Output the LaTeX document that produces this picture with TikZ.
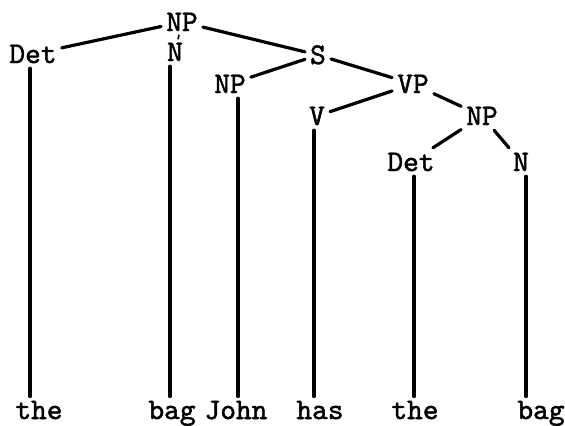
\documentclass[tikz,border=0pt]{standalone}
\usepackage{fontspec}
\usetikzlibrary{calc}
% typewriter face, emboldened a little to look like ribbon ink
\newfontfamily\typew{lmmono10-regular}[Extension=.otf, FakeBold=1.6]
\begin{document}
\begin{tikzpicture}[x=1bp,y=-1bp,
  lab/.style={font=\typew\fontsize{30}{32}\selectfont, inner sep=5bp,
              text height=18bp, text depth=0bp},
  word/.style={font=\typew\fontsize{30}{32}\selectfont, inner sep=4bp, anchor=base},
  branch/.style={line width=3.2bp, line cap=round}]
\useasboundingbox (0,0) rectangle (565,425);

% category labels
\node[lab] (np0)  at (182,22)  {NP};
\node[lab] (det1) at (33,54)   {Det};
\node[lab] (n1)   at (175,52)  {N};
\node[lab] (s)    at (318,55)  {S};
\node[lab] (np1)  at (230,84)  {NP};
\node[lab] (vp)   at (413,84)  {VP};
\node[lab] (v)    at (317,116) {V};
\node[lab] (np2)  at (482,116) {NP};
\node[lab] (det2) at (411,162) {Det};
\node[lab] (n2)   at (521,162) {N};

% terminal words
\node[word] (w1) at (39,419)  {the};
\node[word] (w2) at (172,419) {bag};
\node[word] (w3) at (236,419) {John};
\node[word] (w4) at (320,419) {has};
\node[word] (w5) at (415,419) {the};
\node[word] (w6) at (541,419) {bag};

% tree branches
\draw[branch] (np0) -- (det1);
\draw[line width=1.6bp, shorten <=-1.5bp, shorten >=-1.5bp] (np0) -- (n1);
\draw[branch] (np0) -- (s);
\draw[branch] (s) -- (np1);
\draw[branch] (s) -- (vp);
\draw[branch] (vp) -- (v);
\draw[branch] (vp) -- (np2);
\draw[branch] (np2) -- (det2);
\draw[branch] (np2) -- (n2);

% long stems down to the words
\draw[branch] ($(det1.south)+(-3,0)$) -- ($(det1.south |- w1.north)+(-3,0)$);
\draw[branch] ($(n1.south)+(-5,0)$)   -- ($(n1.south |- w2.north)+(-5,0)$);
\draw[branch] ($(np1.south)+(8,0)$)   -- ($(np1.south |- w3.north)+(8,0)$);
\draw[branch] ($(v.south)+(-3,0)$)    -- ($(v.south |- w4.north)+(-3,0)$);
\draw[branch] ($(det2.south)+(3,0)$)  -- ($(det2.south |- w5.north)+(3,0)$);
\draw[branch] ($(n2.south)+(5,0)$)    -- ($(n2.south |- w6.north)+(5,0)$);
\end{tikzpicture}
\end{document}
